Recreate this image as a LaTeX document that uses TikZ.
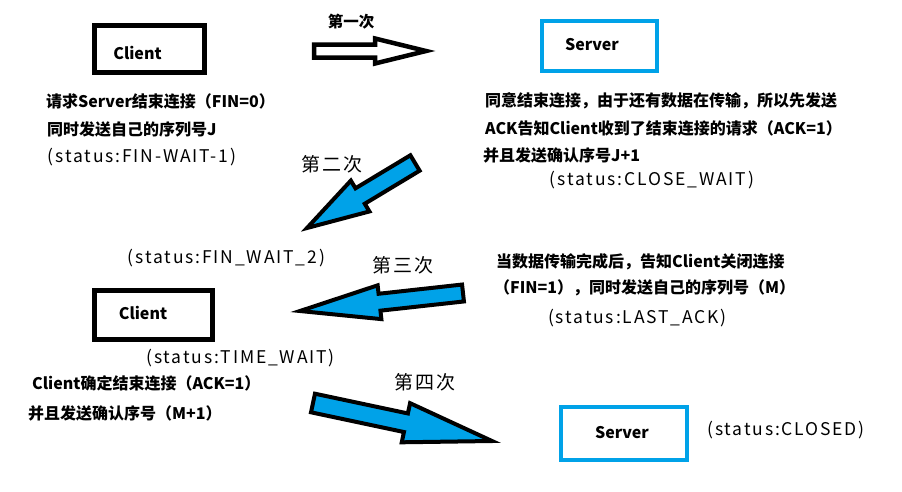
\documentclass[tikz,border=0pt]{standalone}
\usepackage{fontspec}
\usetikzlibrary{calc}
\setmainfont{Noto Sans CJK SC}
\newfontfamily\statfont{Noto Sans CJK SC}[LetterSpace=10.5]
\newfontfamily\lblfont{Noto Sans CJK SC}[LetterSpace=10]
\definecolor{pblue}{RGB}{0,162,232}
\tikzset{
  cbox/.style={draw=black, line width=5pt, inner sep=0pt},
  sbox/.style={draw=pblue, line width=4pt, inner sep=0pt},
  boxlbl/.style={inner sep=0pt, font=\fontsize{16}{19}\selectfont\bfseries},
  btxt/.style={inner sep=0pt, anchor=west, font=\fontsize{16}{19}\selectfont\bfseries},
  stat/.style={inner sep=0pt, font=\fontsize{17.5}{20}\selectfont\statfont},
  alab/.style={inner sep=0pt, font=\fontsize{19}{21}\selectfont\lblfont},
  fatwhite/.style={draw=black, fill=white, line width=4.5pt, line join=miter},
  fatblue/.style={draw=black, fill=pblue, line width=4pt, line join=miter},
}
% #1 tail, #2 tip, #3 head length, #4 shaft half width, #5 head half width, #6 style
\newcommand\fatarrow[6]{%
  \coordinate (#1n) at ($(#2)!#3!(#1)$);
  \draw[#6] ($(#1)!#4!90:(#2)$) -- ($(#1n)!#4!-90:(#1)$) -- ($(#1n)!#5!-90:(#1)$) -- (#2)
    -- ($(#1n)!#5!90:(#1)$) -- ($(#1n)!#4!90:(#1)$) -- ($(#1)!#4!-90:(#2)$) -- cycle;
}
\begin{document}
\begin{tikzpicture}[x=1pt,y=-1pt]
\path[use as bounding box, fill=white] (0,0) rectangle (902,491);

% boxes
\node[cbox, minimum width=110pt, minimum height=47pt] (c1) at (149,48.5) {};
\node[boxlbl] (c1t) at (137.5,53) {Client};
\node[sbox, minimum width=115pt, minimum height=50pt] (s1) at (599.5,46) {};
\node[boxlbl] (s1t) at (592,45) {Server};
\node[cbox, minimum width=118pt, minimum height=49pt] (c2) at (153,314.5) {};
\node[boxlbl] (c2t) at (143,313) {Client};
\node[sbox, minimum width=126pt, minimum height=53pt] (s2) at (624,433.5) {};
\node[boxlbl] (s2t) at (622,433) {Server};

% arrows
\coordinate (a1t) at (314,51);  \coordinate (a1h) at (426,51);
\fatarrow{a1t}{a1h}{51pt}{6.5pt}{12.5pt}{fatwhite}
\coordinate (a2t) at (415,163); \coordinate (a2h) at (307,228);
\fatarrow{a2t}{a2h}{62pt}{9pt}{18pt}{fatblue}
\coordinate (a3t) at (463,293); \coordinate (a3h) at (300,311);
\fatarrow{a3t}{a3h}{80pt}{8.5pt}{17pt}{fatblue}
\coordinate (a4t) at (313,403); \coordinate (a4h) at (492,441);
\fatarrow{a4t}{a4h}{88pt}{9.5pt}{20pt}{fatblue}

% arrow labels
\node[inner sep=0pt, font=\fontsize{15.5}{18}\selectfont\bfseries] (l1) at (351,22) {第一次};
\node[alab] (l2) at (332,164) {第二次};
\node[alab] (l3) at (403,265) {第三次};
\node[alab] (l4) at (425,382) {第四次};

% texts
\node[btxt] (t1) at (46,101) {请求Server结束连接（FIN=0）};
\node[btxt] (t2) at (47,129) {同时发送自己的序列号J};
\node[stat] (st1) at (142,157) {(status:FIN-WAIT-1)};

\node[btxt] (r1) at (485,101) {同意结束连接，由于还有数据在传输，所以先发送};
\node[btxt] (r2) at (485,128) {ACK告知Client收到了结束连接的请求（ACK=1）};
\node[btxt] (r3) at (483,155) {并且发送确认序号J+1};
\node[stat] (st2) at (652,180) {(status:CLOSE\_WAIT)};

\node[stat] (st3) at (226.5,258) {(status:FIN\_WAIT\_2)};

\node[btxt] (m1) at (496,262) {当数据传输完成后，告知Client关闭连接};
\node[btxt] (m2) at (494,288) {（FIN=1），同时发送自己的序列号（M）};
\node[stat] (st4) at (637.5,318) {(status:LAST\_ACK)};

\node[stat] (st5) at (240.5,358) {(status:TIME\_WAIT)};
\node[btxt] (b1) at (32,383) {Client确定结束连接（ACK=1）};
\node[btxt] (b2) at (28,413) {并且发送确认序号（M+1）};
\node[stat] (st6) at (786,430) {(status:CLOSED)};
\end{tikzpicture}
\end{document}
